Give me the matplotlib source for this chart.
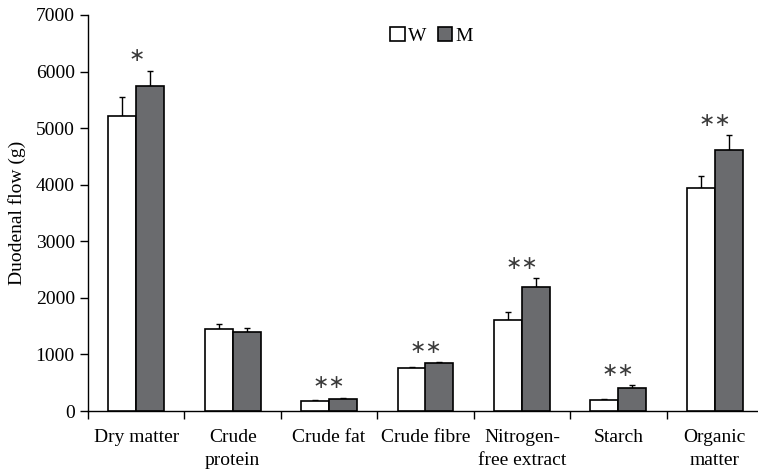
import numpy as np
import matplotlib.pyplot as plt

plt.rcParams['font.family'] = ['Liberation Serif', 'DejaVu Serif']

categories = ['Dry matter', 'Crude\nprotein', 'Crude fat', 'Crude fibre',
              'Nitrogen-\nfree extract', 'Starch', 'Organic\nmatter']
w_mean = [5220, 1450, 177, 754, 1613, 194, 3934]
w_err = [335, 92, 10, 18, 131, 18, 223]
m_mean = [5750, 1390, 218, 843, 2196, 406, 4611]
m_err = [265, 76, 17, 17, 148, 53, 265]
signif = ['*', '', '**', '**', '**', '**', '**']

x = np.arange(len(categories))
bw = 0.29

fig = plt.figure(figsize=(7.58, 4.73), dpi=100)
ax = fig.add_axes([88/758, 1-411/473, (763-88)/758, (411-15)/473])

ax.bar(x - bw/2, w_mean, bw, color='white', edgecolor='black', linewidth=1.2, zorder=3, label='W')
ax.bar(x + bw/2, m_mean, bw, color='#6a6b6e', edgecolor='black', linewidth=1.2, zorder=3, label='M')
ax.errorbar(x - bw/2, w_mean, yerr=[np.zeros(len(x)), w_err], fmt='none',
            ecolor='black', elinewidth=1.0, capsize=2.5, capthick=1.0, zorder=2)
ax.errorbar(x + bw/2, m_mean, yerr=[np.zeros(len(x)), m_err], fmt='none',
            ecolor='black', elinewidth=1.0, capsize=2.5, capthick=1.0, zorder=2)

# significance marks above the taller error bar
for i, s in enumerate(signif):
    if s:
        top = max(w_mean[i] + w_err[i], m_mean[i] + m_err[i])
        ax.text(x[i], top + 265, s.replace('*', '\u2217'), ha='center', va='center',
                fontsize=14, family=['DejaVu Sans'], color='#3a3a3a')

ax.set_xlim(-0.5, 6.5)
ax.set_ylim(0, 7000)
ax.set_yticks(np.arange(0, 7001, 1000))
ax.set_xticks(x)
ax.set_xticklabels(categories, fontsize=14, linespacing=1.45)
ax.set_xticks(np.arange(-0.5, 6.0, 1.0), minor=True)
ax.tick_params(axis='x', which='major', length=0, pad=13)
ax.tick_params(axis='x', which='minor', length=6, width=1.0, direction='out')
ax.tick_params(axis='y', length=6, width=1.0, labelsize=14, direction='out')

ax.spines['top'].set_visible(False)
ax.spines['right'].set_visible(False)
ax.spines['left'].set_linewidth(1.0)
ax.spines['bottom'].set_linewidth(1.0)

ax.set_ylabel('Duodenal flow (g)', fontsize=14, labelpad=7)

ax.legend(loc='upper left', bbox_to_anchor=(0.433, 0.995), ncol=2, frameon=False,
          fontsize=14, handlelength=0.75, handleheight=0.75, handletextpad=0.15,
          columnspacing=0.6, borderpad=0)

fig.savefig('out.png', dpi=100)
